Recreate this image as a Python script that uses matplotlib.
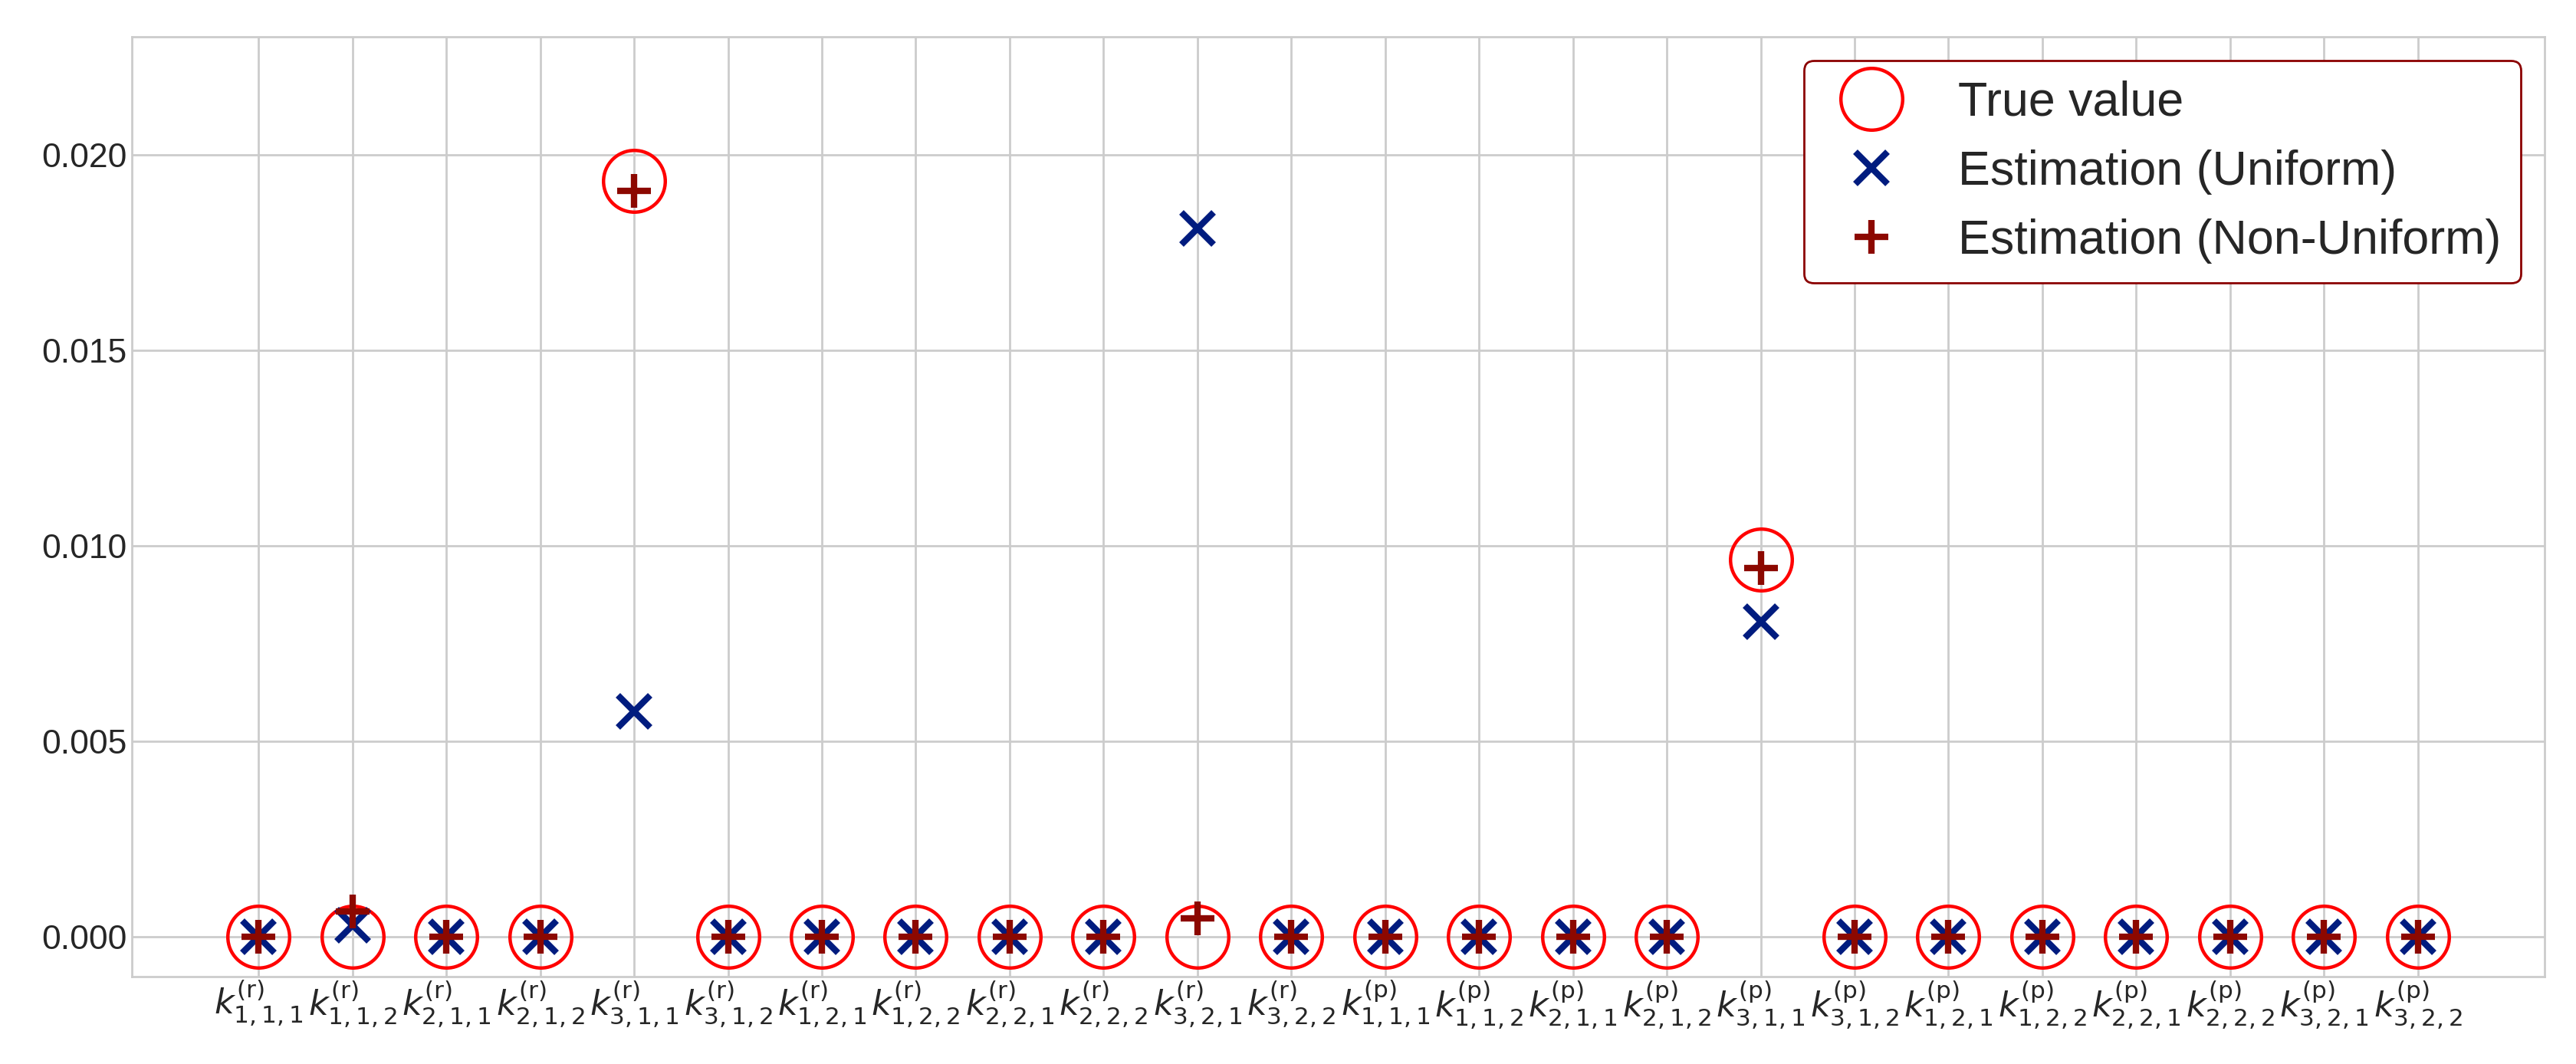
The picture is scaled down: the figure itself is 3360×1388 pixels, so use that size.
import numpy as np
import matplotlib
matplotlib.use("Agg")
import matplotlib.pyplot as plt

# ---- data ----
idx = ["1,1,1", "1,1,2", "2,1,1", "2,1,2", "3,1,1", "3,1,2",
       "1,2,1", "1,2,2", "2,2,1", "2,2,2", "3,2,1", "3,2,2"]
tick_labels = [r"$k^{(\mathrm{r})}_{%s}$" % s for s in idx] + \
              [r"$k^{(\mathrm{p})}_{%s}$" % s for s in idx]

true_vals = [0, 0, 0, 0, 0.01933, 0, 0, 0, 0, 0, 0, 0,
             0, 0, 0, 0, 0.00965, 0, 0, 0, 0, 0, 0, 0]
est_uniform = [0, 0.00029, 0, 0, 0.00576, 0, 0, 0, 0, 0, 0.01812, 0,
               0, 0, 0, 0, 0.00806, 0, 0, 0, 0, 0, 0, 0]
est_nonuniform = [0, 0.00065, 0, 0, 0.01908, 0, 0, 0, 0, 0, 0.00047, 0,
                  0, 0, 0, 0, 0.00943, 0, 0, 0, 0, 0, 0, 0]
yticks = [0.000, 0.005, 0.010, 0.015, 0.020]

# ---- style ----
plt.rcParams['font.family'] = ['Liberation Sans', 'DejaVu Sans']
plt.rcParams['mathtext.fontset'] = 'dejavusans'

DPI = 200
fig = plt.figure(figsize=(3360 / DPI, 1388 / DPI), dpi=DPI)
ax = fig.add_axes([172 / 3360, 1 - 1274 / 1388, (3319 - 172) / 3360, (1274 - 48) / 1388])

x = np.arange(len(tick_labels))
ax.plot(x, true_vals, linestyle='none', marker='o', markersize=29,
        markerfacecolor='none', markeredgecolor='#ff0000', markeredgewidth=1.6,
        label='True value', zorder=3)
ax.plot(x, est_uniform, linestyle='none', marker='x', markersize=15,
        markeredgecolor='#001c7f', markeredgewidth=3,
        label='Estimation (Uniform)', zorder=4)
ax.plot(x, est_nonuniform, linestyle='none', marker='+', markersize=15.5,
        markeredgecolor='#8c0800', markeredgewidth=3,
        label='Estimation (Non-Uniform)', zorder=5)

ax.set_xlim(-1.35, len(x) - 1 + 1.35)
ax.set_ylim(-0.00102, 0.02302)
ax.set_xticks(x)
ax.set_xticklabels(tick_labels, fontsize=16)
ax.set_yticks(yticks)
ax.set_yticklabels(["%.3f" % v for v in yticks], fontsize=16)

ax.set_facecolor('white')
ax.grid(True, color='#cccccc', linewidth=1.0)
ax.set_axisbelow(True)
for sp in ax.spines.values():
    sp.set_color('#cccccc')
    sp.set_linewidth(1.0)
ax.tick_params(axis='both', length=0, colors='#262626')
ax.tick_params(axis='y', pad=2.2)
ax.tick_params(axis='x', pad=1.0)

leg = ax.legend(loc='upper right', fontsize=22.6, frameon=True, fancybox=True,
                edgecolor='#8b0000', framealpha=1.0, labelspacing=0.5,
                borderaxespad=0.5)
leg.get_frame().set_linewidth(1.0)
for t in leg.get_texts():
    t.set_color('#262626')

fig.savefig('out.png', dpi=DPI, facecolor='white')
